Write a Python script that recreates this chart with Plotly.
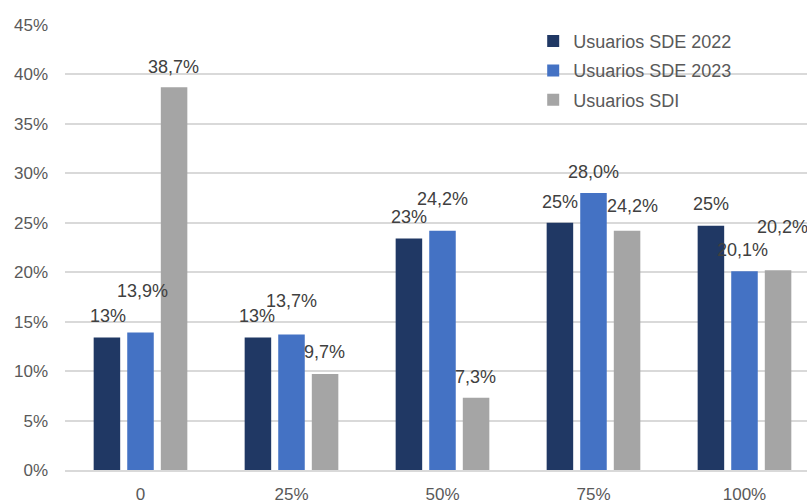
import plotly.graph_objects as go

categories = ["0", "25%", "50%", "75%", "100%"]
series_names = ["Usuarios SDE 2022", "Usuarios SDE 2023", "Usuarios SDI"]
sde_2022 = [13.4, 13.4, 23.4, 25.0, 24.7]
sde_2023 = [13.9, 13.7, 24.2, 28.0, 20.1]
sdi = [38.7, 9.7, 7.3, 24.2, 20.2]
y_ticks = [0, 5, 10, 15, 20, 25, 30, 35, 40, 45]

series_values = [sde_2022, sde_2023, sdi]
label_decimals = [0, 1, 1]
colors = ["#203864", "#4472C4", "#A5A5A5"]

# label offsets in pixels (xshift from category centre, yshift above bar top)
label_shifts = [
    [(-33, 21), (-35, 21), (-33, 22), (-33, 21), (-33, 22)],
    [(2, 42), (0, 34), (0, 32), (0, 21), (-2, 21)],
    [(33, 20), (33, 22), (33, 21), (39, 25), (38, 43)],
]

FONT = "Liberation Sans"

fig = go.Figure()
for k, (name, vals) in enumerate(zip(series_names, series_values)):
    fig.add_trace(go.Bar(
        x=list(range(len(categories))), y=vals, name=name,
        marker=dict(color=colors[k], line=dict(width=0)),
        legendgroup=name,
        hoverinfo="skip",
    ))

annotations = []
for k, vals in enumerate(series_values):
    for i, v in enumerate(vals):
        txt = f"{v:.{label_decimals[k]}f}".replace(".", ",") + "%"
        dx, dy = label_shifts[k][i]
        annotations.append(dict(
            x=i, y=v, xref="x", yref="y", text=txt, showarrow=False,
            xanchor="center", yanchor="middle", xshift=dx, yshift=dy,
            font=dict(family=FONT, size=18, color="#404040"),
        ))

fig.update_layout(
    width=807, height=503,
    margin=dict(l=65, r=0, t=25, b=33),
    paper_bgcolor="white", plot_bgcolor="white",
    barmode="group", bargap=0.333, bargroupgap=0.21,
    font=dict(family=FONT, size=17, color="#595959"),
    annotations=annotations,
    showlegend=True,
    legend=dict(
        x=0.631, y=1.005, xanchor="left", yanchor="top",
        font=dict(family=FONT, size=18, color="#595959"),
        bgcolor="rgba(0,0,0,0)", tracegroupgap=3,
        traceorder="grouped",
    ),
    xaxis=dict(
        type="linear", range=[-0.5, 4.414], automargin=False,
        tickmode="array", tickvals=list(range(len(categories))), ticktext=categories,
        showgrid=False, zeroline=False,
        showline=True, linecolor="#D9D9D9", linewidth=1.5,
        ticks="", ticklabelstandoff=8,
        tickfont=dict(family=FONT, size=17, color="#595959"),
    ),
    yaxis=dict(
        range=[0, 45], tickmode="array", tickvals=y_ticks, automargin=False,
        ticktext=[f"{t}%" for t in y_ticks],
        showgrid=True, gridcolor="#D9D9D9", gridwidth=1.5,
        zeroline=False, showline=False, ticks="",
        ticklabelstandoff=16,
        tickfont=dict(family=FONT, size=17, color="#595959"),
    ),
)

fig.write_html("out.html")
